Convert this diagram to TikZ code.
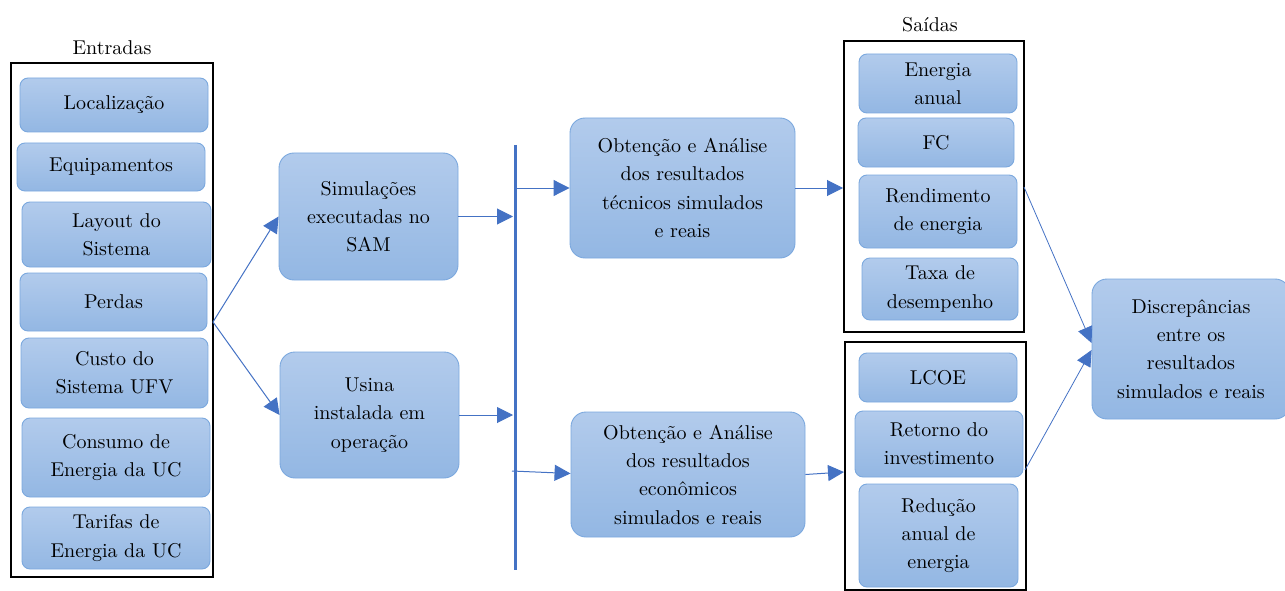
\documentclass[tikz,border=0pt]{standalone}
\usepackage{fontspec}
\setmainfont{lmroman10-regular.otf}
\usetikzlibrary{arrows.meta}
\definecolor{btop}{HTML}{B2CBEC}
\definecolor{bbot}{HTML}{93B7E3}
\definecolor{bline}{HTML}{7BA8DE}
\definecolor{arr}{HTML}{4472C4}
\tikzset{
  box/.style={draw=bline, line width=0.9pt, rounded corners=8pt, top color=btop, bottom color=bbot,
    align=center, inner sep=0pt, font=\fontsize{20}{28.3}\selectfont},
  bigbox/.style={box, rounded corners=15pt},
  frame/.style={draw=black, line width=2pt, inner sep=0pt},
  lbl/.style={font=\fontsize{20}{28.3}\selectfont, inner sep=0pt},
  conn/.style={draw=arr, line width=1pt, -{Triangle[length=16pt,width=16pt]}},
  thinconn/.style={draw=arr, line width=0.8pt, -{Triangle[length=16pt,width=15pt]}},
}
\begin{document}
\begin{tikzpicture}[x=1pt,y=-1pt]
\useasboundingbox (0,0) rectangle (1285,591);
% frames
\node[frame, minimum width=202pt, minimum height=514pt] (inframe) at (112,320) {};
\node[frame, minimum width=180pt, minimum height=291pt] (out1) at (934,186.5) {};
\node[frame, minimum width=181pt, minimum height=248pt] (out2) at (935.5,466) {};
\node[lbl] (entradas) at (112,48) {Entradas};
\node[lbl] (saidas) at (930,25) {Saídas};
% inputs
\node[box, minimum width=188pt, minimum height=54pt] (loc) at (114,105) {Localização};
\node[box, minimum width=188pt, minimum height=48pt] (equip) at (111,167) {Equipamentos};
\node[box, minimum width=189pt, minimum height=65pt] (layout) at (116.5,234.5) {Layout do\\Sistema};
\node[box, minimum width=187pt, minimum height=58pt] (perdas) at (113.5,302) {Perdas};
\node[box, minimum width=187pt, minimum height=70pt] (custo) at (114.5,373) {Custo do\\Sistema UFV};
\node[box, minimum width=188pt, minimum height=79pt] (consumo) at (116,457.5) {Consumo de\\Energia da UC};
\node[box, minimum width=188pt, minimum height=62pt] (tarifas) at (116,538) {Tarifas de\\Energia da UC};
% middle
\node[bigbox, minimum width=179pt, minimum height=127pt] (sim) at (368.5,216.5) {Simulações\\executadas no\\SAM};
\node[bigbox, minimum width=179pt, minimum height=126pt] (usina) at (369.5,415) {Usina\\instalada em\\operação};
\node[bigbox, minimum width=225pt, minimum height=140pt] (tec) at (682.5,188) {Obtenção e Análise\\dos resultados\\técnicos simulados\\e reais};
\node[bigbox, minimum width=234pt, minimum height=125pt] (eco) at (688,474.5) {Obtenção e Análise\\dos resultados\\econômicos\\simulados e reais};
% outputs
\node[box, minimum width=158pt, minimum height=59pt] (energia) at (938,83.5) {Energia\\anual};
\node[box, minimum width=156pt, minimum height=49pt] (fc) at (936,142.5) {FC};
\node[box, minimum width=158pt, minimum height=73pt] (rend) at (938,211.5) {Rendimento\\de energia};
\node[box, minimum width=156pt, minimum height=62pt] (taxa) at (940,289) {Taxa de\\desempenho};
\node[box, minimum width=158pt, minimum height=49pt] (lcoe) at (938,377.5) {LCOE};
\node[box, minimum width=168pt, minimum height=66pt] (ret) at (939,444) {Retorno do\\investimento};
\node[box, minimum width=159pt, minimum height=103pt] (red) at (938.5,535.5) {Redução\\anual de\\energia};
\node[bigbox, minimum width=198pt, minimum height=140pt] (disc) at (1191,349) {Discrepâncias\\entre os\\resultados\\simulados e reais};
% bus line
\coordinate (bustop) at (515,145);
\coordinate (busbot) at (515,570);
\draw[arr, line width=3pt] (bustop) -- (busbot);
% connectors
\coordinate (split) at (213,322);
\draw[conn] (split) -- (sim.west);
\draw[conn] (split) -- (usina.west);
\draw[conn] (sim.east) -- ([xshift=-2pt]sim.east -| bustop);
\draw[conn] (usina.east) -- ([xshift=-2pt]usina.east -| bustop);
\coordinate (b1) at (517,188);
\coordinate (b2) at (512,471);
\draw[conn] (b1) -- (tec.west);
\draw[conn] (b2) -- ([yshift=1pt]eco.west);
\draw[conn] (tec.east) -- (tec.east -| out1.west);
\draw[conn] (eco.east) -- ([yshift=2.5pt]eco.east -| out2.west);
\coordinate (o1) at (1024,187);
\coordinate (o2) at (1025,470);
\draw[thinconn] (o1) -- ([yshift=6pt]disc.west);
\draw[thinconn] (o2) -- ([yshift=-1pt]disc.west);
\end{tikzpicture}
\end{document}
